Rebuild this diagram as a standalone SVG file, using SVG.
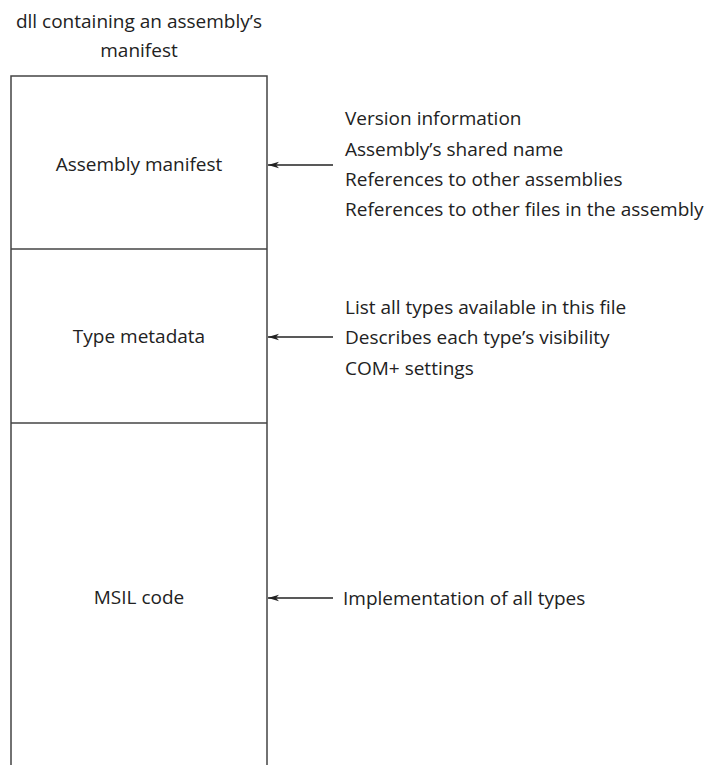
<svg xmlns="http://www.w3.org/2000/svg" width="712" height="765" viewBox="0 0 712 765">
<style>
text{font-family:"Open Sans","Noto Sans",sans-serif;font-size:19px;fill:#222}
.c{text-anchor:middle}
.box{fill:none;stroke:#444;stroke-width:1.5}
.conn{stroke:#222;stroke-width:1.3;fill:none}
</style>
<defs>
<marker id="ah" viewBox="0 0 11 8" refX="11" refY="4" markerWidth="11" markerHeight="8" orient="auto" markerUnits="userSpaceOnUse">
<path d="M0,0.8 L11,4 L0,7.2 L3,4 Z" fill="#222"/>
</marker>
</defs>
<rect width="712" height="765" fill="#fff"/>
<g id="title">
<text class="c" x="139" y="28">dll containing an assembly’s</text>
<text class="c" x="139" y="57">manifest</text>
</g>
<g id="manifest">
<path class="box" d="M11,770 V76 H267 V770"/>
<text class="c" x="139" y="171">Assembly manifest</text>
</g>
<g id="metadata">
<line class="box" x1="11" y1="249" x2="267" y2="249"/>
<text class="c" x="139" y="343">Type metadata</text>
</g>
<g id="msil">
<line class="box" x1="11" y1="423" x2="267" y2="423"/>
<text class="c" x="139" y="604">MSIL code</text>
</g>
<g id="connectors">
<line class="conn" x1="333" y1="165" x2="268" y2="165" marker-end="url(#ah)"/>
<line class="conn" x1="333" y1="337" x2="268" y2="337" marker-end="url(#ah)"/>
<line class="conn" x1="333" y1="598" x2="268" y2="598" marker-end="url(#ah)"/>
</g>
<g id="notes1">
<text x="345" y="125">Version information</text>
<text x="345" y="156">Assembly’s shared name</text>
<text x="345" y="186">References to other assemblies</text>
<text x="345" y="216">References to other files in the assembly</text>
</g>
<g id="notes2">
<text x="345" y="314">List all types available in this file</text>
<text x="345" y="344">Describes each type’s visibility</text>
<text x="345" y="375">COM+ settings</text>
</g>
<g id="notes3">
<text x="343" y="605">Implementation of all types</text>
</g>
</svg>
